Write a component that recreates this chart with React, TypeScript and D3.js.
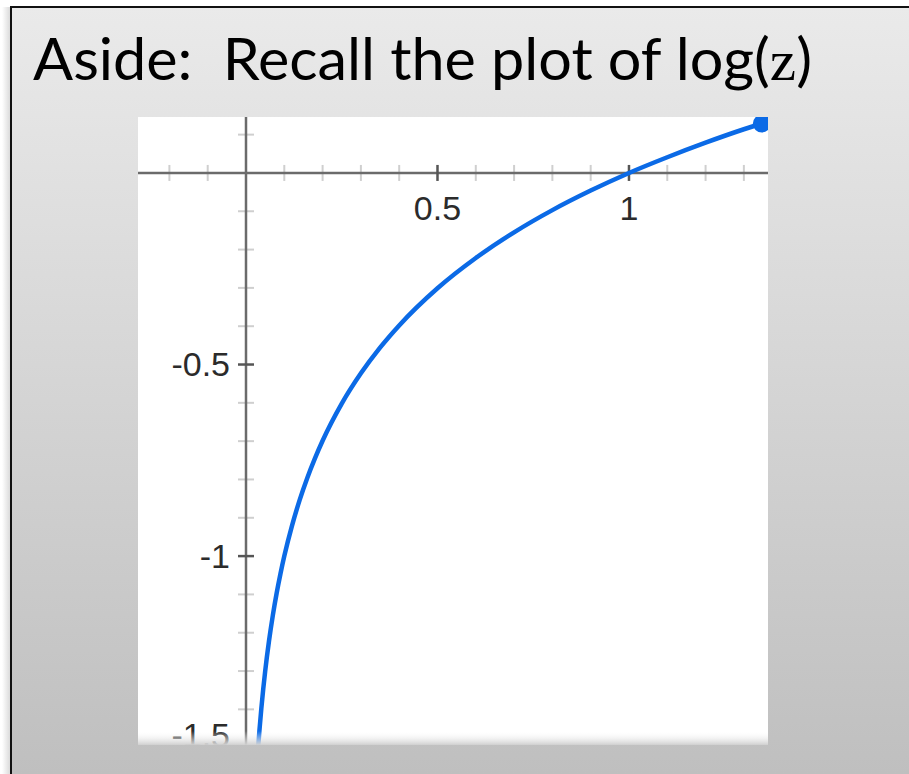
import React from "react";
import * as d3 from "d3";

// points (z, log z)
const zValues = [0.031, 0.035, 0.04, 0.045, 0.05, 0.06, 0.07, 0.08, 0.09, 0.1, 0.12, 0.14, 0.16, 0.18, 0.2, 0.25, 0.3, 0.35, 0.4, 0.5, 0.6, 0.7, 0.8, 0.9, 1.0, 1.1, 1.2, 1.3, 1.347];
const logValues = [-1.509, -1.456, -1.398, -1.347, -1.301, -1.222, -1.155, -1.097, -1.046, -1.0, -0.921, -0.854, -0.796, -0.745, -0.699, -0.602, -0.523, -0.456, -0.398, -0.301, -0.222, -0.155, -0.097, -0.046, 0.0, 0.041, 0.079, 0.114, 0.129];

const xMinorTicks = [-0.2, -0.1, 0.1, 0.2, 0.3, 0.4, 0.6, 0.7, 0.8, 0.9, 1.1, 1.2, 1.3];
const xMajorTicks = [0.5, 1];
const xTickLabels = ["0.5", "1"];
const yMinorTicks = [0.1, -0.1, -0.2, -0.3, -0.4, -0.6, -0.7, -0.8, -0.9, -1.1, -1.2, -1.3, -1.4];
const yMajorTicks = [-0.5, -1, -1.5];
const yTickLabels = ["-0.5", "-1", "-1.5"];

const W = 909;
const H = 774;
const plot = { left: 138, right: 768, top: 117, bottom: 745 };

export default function App() {
  const x = d3.scaleLinear().domain([-0.282, 1.363]).range([plot.left, plot.right]);
  const y = d3.scaleLinear().domain([0.146, -1.493]).range([plot.top, plot.bottom]);

  const pts = zValues.map((z, i) => [z, logValues[i]] as [number, number]);
  const line = d3.line<[number, number]>()
    .x(d => x(d[0]))
    .y(d => y(d[1]))
    .curve(d3.curveMonotoneX);

  const last = pts[pts.length - 1];
  const x0 = x(0);
  const y0 = y(0);
  const labelFont = "'Liberation Sans', Arial, sans-serif";

  return (
    <div style={{ position: "absolute", left: 0, top: 0 }}>
      <svg width={W} height={H} style={{ display: "block" }}>
        <defs>
          <linearGradient id="bg" x1="0" y1="0" x2="0" y2="1">
            <stop offset="0" stopColor="#eaeaea" />
            <stop offset="1" stopColor="#bfbfbf" />
          </linearGradient>
          <linearGradient id="shadow" x1="0" y1="0" x2="1" y2="0">
            <stop offset="0" stopColor="#ffffff" />
            <stop offset="1" stopColor="#d6d6d6" />
          </linearGradient>
          <linearGradient id="fade" x1="0" y1="0" x2="0" y2="1">
            <stop offset="0" stopColor="#ffffff" stopOpacity="0" />
            <stop offset="1" stopColor="#cfcfcf" stopOpacity="1" />
          </linearGradient>
          <clipPath id="plotClip">
            <rect x={plot.left} y={plot.top} width={plot.right - plot.left} height={plot.bottom - plot.top} />
          </clipPath>
        </defs>

        <rect x={0} y={0} width={W} height={H} fill="#ffffff" />
        <rect x={2} y={7} width={9} height={H - 7} fill="url(#shadow)" />
        <rect x={11} y={7} width={W - 11} height={H - 7} fill="url(#bg)" />
        <line x1={10} y1={7} x2={W} y2={7} stroke="#111" strokeWidth={2} />
        <line x1={11} y1={6} x2={11} y2={H} stroke="#111" strokeWidth={2} />

        <text x={33} y={80} fontFamily="Lato, 'Open Sans', sans-serif" fontSize={58} fill="#000"
          textLength={779} lengthAdjust="spacingAndGlyphs" style={{ whiteSpace: "pre" }}>
          <tspan>{"Aside:  Recall the plot of log("}</tspan>
          <tspan fontFamily="'Liberation Serif', 'DejaVu Serif', serif">z</tspan>
          <tspan>)</tspan>
        </text>

        <rect x={plot.left} y={plot.top} width={plot.right - plot.left} height={plot.bottom - plot.top} fill="#ffffff" />

        <g clipPath="url(#plotClip)">
          {xMinorTicks.map(t => (
            <line key={"xm" + t} x1={x(t)} x2={x(t)} y1={y0 - 8} y2={y0 + 8} stroke="#cfcfcf" strokeWidth={2} />
          ))}
          {yMinorTicks.map(t => (
            <line key={"ym" + t} x1={x0 - 8} x2={x0 + 8} y1={y(t)} y2={y(t)} stroke="#cfcfcf" strokeWidth={2} />
          ))}
          <line x1={plot.left} x2={plot.right} y1={y0} y2={y0} stroke="#6b6b6b" strokeWidth={2.5} />
          <line x1={x0} x2={x0} y1={plot.top} y2={plot.bottom} stroke="#6b6b6b" strokeWidth={2.5} />
          {xMajorTicks.map(t => (
            <line key={"xM" + t} x1={x(t)} x2={x(t)} y1={y0 - 8} y2={y0 + 8} stroke="#555" strokeWidth={2.5} />
          ))}
          {yMajorTicks.map(t => (
            <line key={"yM" + t} x1={x0 - 8} x2={x0 + 8} y1={y(t)} y2={y(t)} stroke="#555" strokeWidth={2.5} />
          ))}
          {xMajorTicks.map((t, i) => (
            <text key={"xl" + t} x={x(t)} y={y0 + 47} textAnchor="middle" fontFamily={labelFont} fontSize={34} fill="#2b2b2b">
              {xTickLabels[i]}
            </text>
          ))}
          {yMajorTicks.map((t, i) => (
            <text key={"yl" + t} x={x0 - 16} y={Math.min(y(t), plot.bottom - 10)} dy="0.35em" textAnchor="end"
              fontFamily={labelFont} fontSize={34} fill="#2b2b2b">
              {yTickLabels[i]}
            </text>
          ))}
          <path d={line(pts) || ""} fill="none" stroke="#0b6ae6" strokeWidth={4.5} strokeLinecap="round" />
          <circle cx={x(last[0])} cy={y(last[1])} r={9} fill="#0b6ae6" />
        </g>

        <rect x={plot.left} y={plot.bottom - 14} width={plot.right - plot.left} height={14} fill="url(#fade)" />
      </svg>
    </div>
  );
}
